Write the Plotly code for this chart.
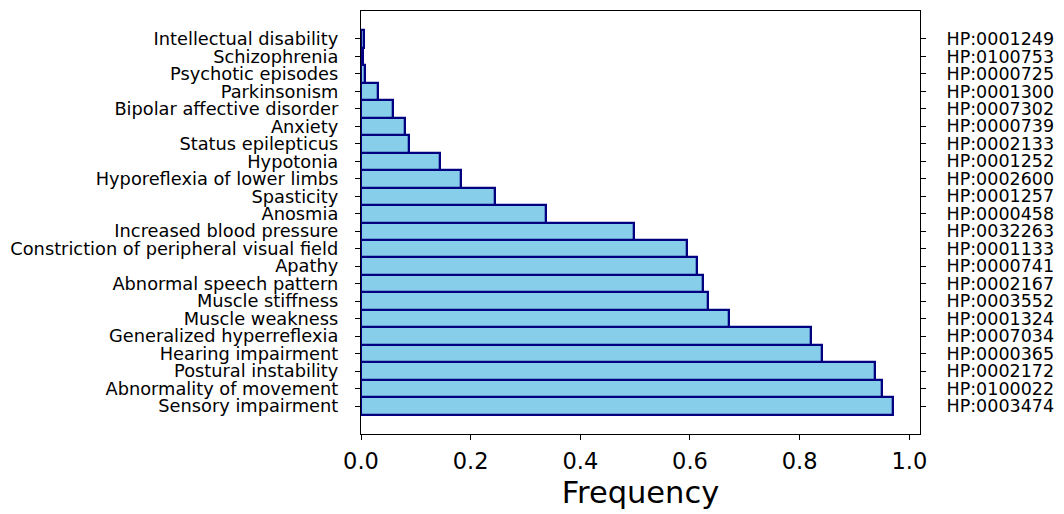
import plotly.graph_objects as go

# Bottom-to-top order (as drawn)
phenotypes = [
    "Sensory impairment", "Abnormality of movement", "Postural instability",
    "Hearing impairment", "Generalized hyperreflexia", "Muscle weakness",
    "Muscle stiffness", "Abnormal speech pattern", "Apathy",
    "Constriction of peripheral visual field", "Increased blood pressure",
    "Anosmia", "Spasticity", "Hyporeflexia of lower limbs", "Hypotonia",
    "Status epilepticus", "Anxiety", "Bipolar affective disorder",
    "Parkinsonism", "Psychotic episodes", "Schizophrenia", "Intellectual disability",
]
hpo_ids = [
    "HP:0003474", "HP:0100022", "HP:0002172", "HP:0000365", "HP:0007034",
    "HP:0001324", "HP:0003552", "HP:0002167", "HP:0000741", "HP:0001133",
    "HP:0032263", "HP:0000458", "HP:0001257", "HP:0002600", "HP:0001252",
    "HP:0002133", "HP:0000739", "HP:0007302", "HP:0001300", "HP:0000725",
    "HP:0100753", "HP:0001249",
]
frequency = [
    0.970, 0.951, 0.937, 0.840, 0.821, 0.672, 0.632, 0.624, 0.613, 0.595,
    0.497, 0.337, 0.244, 0.182, 0.144, 0.088, 0.081, 0.059, 0.031, 0.008,
    0.003, 0.005,
]
x_ticks = [0.0, 0.2, 0.4, 0.6, 0.8, 1.0]

positions = list(range(len(phenotypes)))
FONT = "DejaVu Sans"

fig = go.Figure()
fig.add_trace(go.Bar(
    x=frequency, y=positions, orientation="h", width=1,
    marker=dict(color="#87CEEB", line=dict(color="#000080", width=2.3)),
    showlegend=False, hoverinfo="x+y",
))
# anchor trace for the right-hand axis (invisible)
fig.add_trace(go.Scatter(
    x=frequency, y=positions, yaxis="y2", mode="markers",
    marker=dict(opacity=0), showlegend=False, hoverinfo="skip",
))

yr = [-1.6, len(phenotypes) - 1 + 1.6]
fig.update_layout(
    width=1064, height=514,
    margin=dict(l=356, r=132, t=10, b=73),
    plot_bgcolor="white", paper_bgcolor="white",
    bargap=0,
    font=dict(family=FONT, color="black"),
    xaxis=dict(
        range=[0, 1.0195], tickvals=x_ticks,
        ticktext=[f"{v:.1f}" for v in x_ticks],
        ticks="outside", ticklen=5, tickwidth=1.3, tickcolor="black",
        showline=True, linecolor="black", linewidth=1.3, mirror=True,
        showgrid=False, zeroline=False,
        tickfont=dict(size=22.5, family=FONT),
        ticklabelstandoff=2,
        title=dict(text="Frequency", font=dict(size=30.5, family=FONT), standoff=8),
    ),
    yaxis=dict(
        range=yr, tickvals=positions, ticktext=phenotypes,
        ticks="outside", ticklen=5, tickwidth=1.3, tickcolor="black",
        showline=True, linecolor="black", linewidth=1.3, mirror=True,
        showgrid=False, zeroline=False,
        tickfont=dict(size=17.8, family=FONT),
        ticklabelstandoff=13,
    ),
    yaxis2=dict(
        range=yr, tickvals=positions, ticktext=hpo_ids,
        overlaying="y", side="right", anchor="x",
        ticks="outside", ticklen=5, tickwidth=1.3, tickcolor="black",
        showline=False, showgrid=False, zeroline=False,
        tickfont=dict(size=17.5, family=FONT),
        ticklabelstandoff=17,
    ),
)

# remove the browser's default 8px body margin so the figure fills the window
fig.write_html(
    "out.html",
    config={"displayModeBar": False},
    post_script="document.body.style.margin='0';document.body.style.overflow='hidden';",
)
